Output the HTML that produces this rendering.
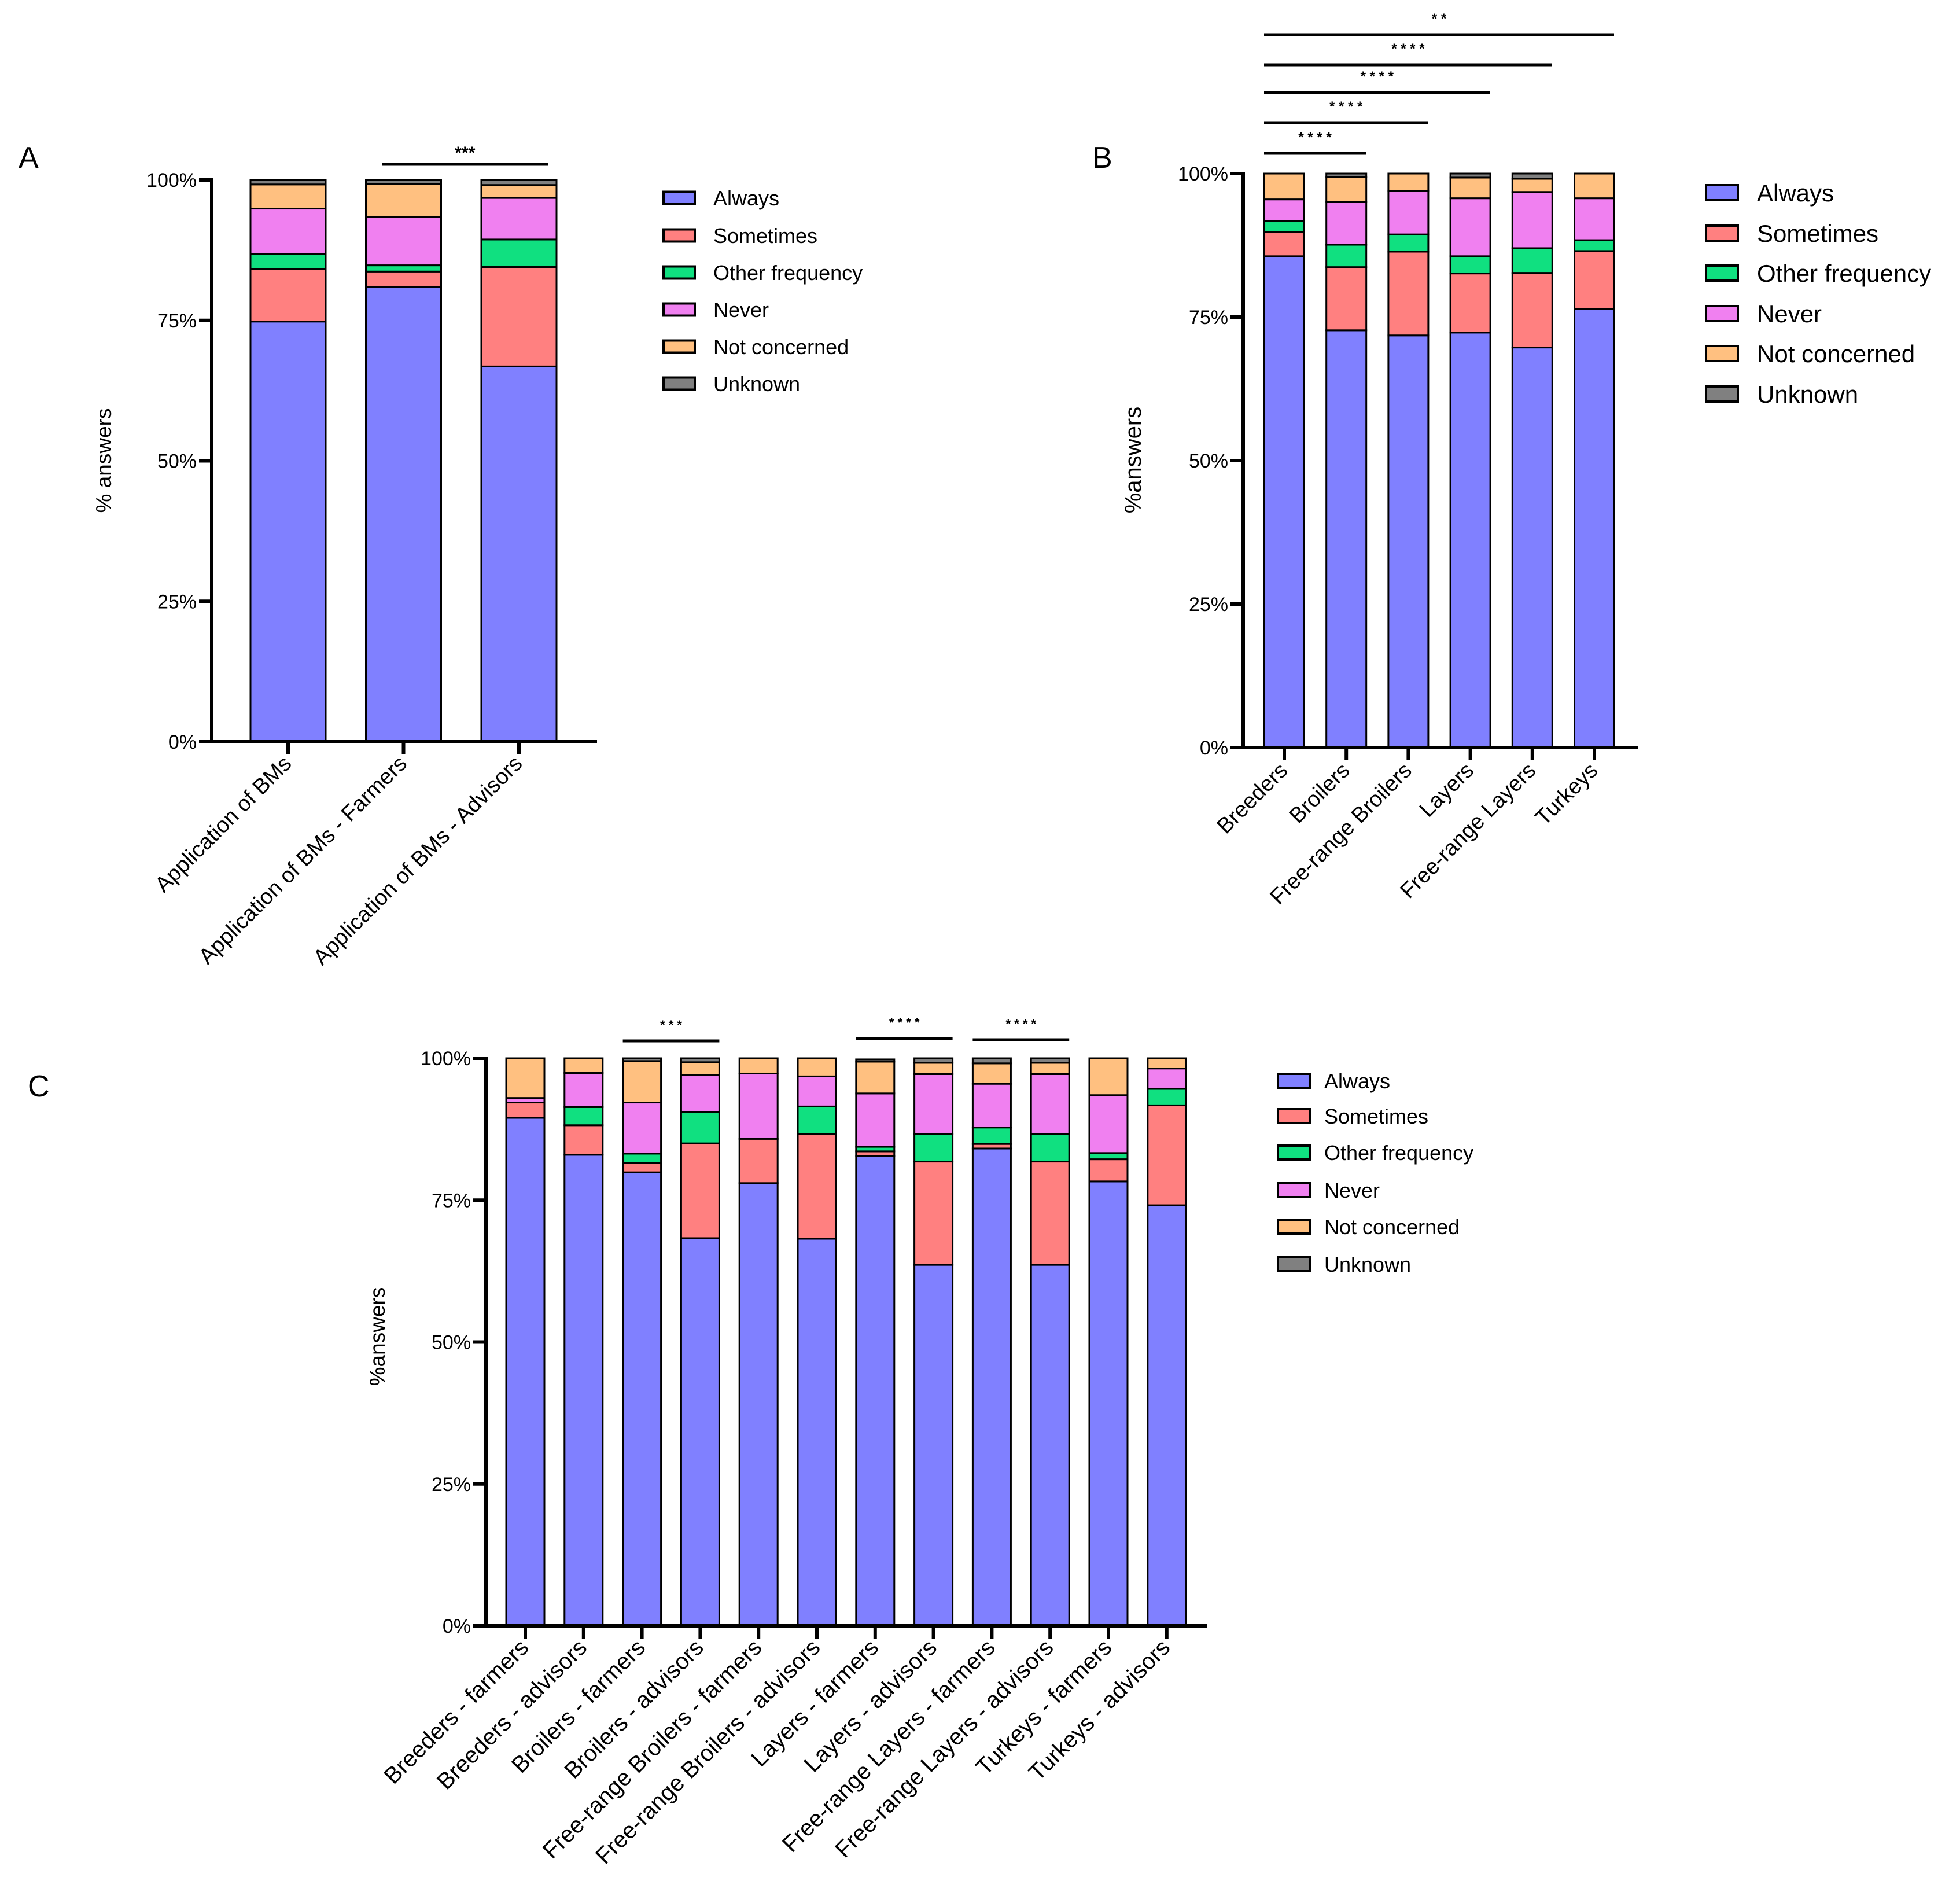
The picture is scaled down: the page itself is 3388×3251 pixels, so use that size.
<!DOCTYPE html>
<html><head><meta charset="utf-8"><style>
html,body{margin:0;padding:0;background:#fff}
svg text{font-family:"Liberation Sans",sans-serif;fill:#000}
</style></head><body>
<svg id="fig" width="3388" height="3246" viewBox="0 0 3388 3246" xmlns="http://www.w3.org/2000/svg">
<rect width="3388" height="3246" fill="#fff"/>
</svg>
<script>
const seriesNames = ["Always","Sometimes","Other frequency","Never","Not concerned","Unknown"];
const seriesColors = ["#8080ff","#ff8080","#10e080","#f080f0","#ffc080","#808080"];
const yTicks = [0,25,50,75,100];
const yTickLabels = ["0%","25%","50%","75%","100%"];

const catsA = ["Application of BMs","Application of BMs - Farmers","Application of BMs - Advisors"];
const alwaysA = [74.8,80.9,66.8];
const sometimesA = [9.3,2.8,17.7];
const otherA = [2.7,1.1,4.9];
const neverA = [8.1,8.6,7.4];
const notConcA = [4.3,5.9,2.3];
const unknownA = [0.8,0.7,0.9];

const catsB = ["Breeders","Broilers","Free-range Broilers","Layers","Free-range Layers","Turkeys"];
const alwaysB = [85.6,72.7,71.8,72.3,69.7,76.4];
const sometimesB = [4.2,11.0,14.6,10.3,13.0,10.1];
const otherB = [1.9,3.9,3.0,3.0,4.3,1.9];
const neverB = [3.8,7.5,7.6,10.1,9.8,7.3];
const notConcB = [4.5,4.3,3.0,3.6,2.3,4.3];
const unknownB = [0,0.6,0,0.7,0.9,0];

const catsC = ["Breeders - farmers","Breeders - advisors","Broilers - farmers","Broilers - advisors","Free-range Broilers - farmers","Free-range Broilers - advisors","Layers - farmers","Layers - advisors","Free-range Layers - farmers","Free-range Layers - advisors","Turkeys - farmers","Turkeys - advisors"];
const alwaysC = [89.5,83.0,79.9,68.3,78.0,68.2,82.8,63.6,84.1,63.6,78.3,74.1];
const sometimesC = [2.7,5.2,1.6,16.7,7.8,18.4,0.8,18.2,0.8,18.2,3.9,17.6];
const otherC = [0,3.2,1.7,5.5,0,4.9,0.8,4.8,2.9,4.8,1.1,2.9];
const neverC = [0.8,6.0,9.0,6.5,11.5,5.3,9.4,10.6,7.7,10.6,10.2,3.6];
const notConcC = [7.0,2.6,7.3,2.3,2.7,3.2,5.6,2.0,3.6,2.0,6.5,1.8];
const unknownC = [0,0,0.5,0.7,0,0,0.4,0.8,0.9,0.8,0,0];

const sigA = [[1,2]];
const sigAStars = ["***"];
const sigB = [[0,1],[0,2],[0,3],[0,4],[0,5]];
const sigBStars = ["* * * *","* * * *","* * * *","* * * *","* *"];
const sigC = [[2,3],[6,7],[8,9]];
const sigCStars = ["* * *","* * * *","* * * *"];

const NS="http://www.w3.org/2000/svg";
const svg=document.getElementById('fig');
function mk(tag,attrs,parent){const e=document.createElementNS(NS,tag);for(const k in attrs)e.setAttribute(k,attrs[k]);(parent||svg).appendChild(e);return e;}

function panel(p){
  const g=mk('g',{});
  
  
  const y=v=>p.y0-(v/100)*(p.y0-p.y100);
  const x=i=>p.xFirst+i*p.step;
  const series=p.series;
  p.cats.forEach((c,i)=>{
    let acc=0;
    series.forEach((s,si)=>{
      const v=s[i]; if(v<=0) return;
      const r=mk('rect',{x:x(i)-p.bw/2,y:y(acc+v),width:p.bw,height:y(acc)-y(acc+v),fill:seriesColors[si],stroke:'#000','stroke-width':p.sw},g);
      
      
      acc+=v;
    });
  });
  const ax=mk('line',{x1:p.xAxis,y1:p.y100-3,x2:p.xAxis,y2:p.y0+3,stroke:'#000','stroke-width':p.aw},g);
  
  
  const bx=mk('line',{x1:p.xAxis-p.tl,y1:p.y0,x2:p.xEnd,y2:p.y0,stroke:'#000','stroke-width':p.aw},g);
  
  
  yTicks.forEach((t,k)=>{
    mk('line',{x1:p.xAxis-p.tl,y1:y(t),x2:p.xAxis,y2:y(t),stroke:'#000','stroke-width':p.aw},g);
    const tx=mk('text',{x:p.xAxis-p.tl-4,y:y(t)+p.tf*0.36,'font-size':p.tf,'text-anchor':'end'},g);
    tx.textContent=yTickLabels[k];
    
    
  });
  p.cats.forEach((c,i)=>{
    mk('line',{x1:x(i),y1:p.y0,x2:x(i),y2:p.y0+p.tl,stroke:'#000','stroke-width':p.aw},g);
    const tx=mk('text',{x:x(i)+p.lx,y:p.y0+p.ly,'font-size':p.xf,'text-anchor':'end',transform:`rotate(-45 ${x(i)+p.lx} ${p.y0+p.ly})`},g);
    tx.textContent=c;
    
    
  });
  const yt=mk('text',{x:p.ytx,y:p.yty,'font-size':p.ytf,'text-anchor':'middle',transform:`rotate(-90 ${p.ytx} ${p.yty})`},g);
  yt.textContent=p.ytitle;
  
  
  const pl=mk('text',{x:p.plx,y:p.ply,'font-size':52},g);
  pl.textContent=p.letter;
  
  
  p.sig.forEach((s,k)=>{
    const ly=p.sigY[k];
    const x1=x(s[0])-p.sa;
    const x2=x(s[1])+p.sb;
    const l=mk('line',{x1:x1,y1:ly,x2:x2,y2:ly,stroke:'#000','stroke-width':5},g);
    
    
    const st=mk('text',{x:(x1+x2)/2,y:ly-p.starOff,'font-size':p.starF,'text-anchor':'middle','font-weight':'bold'},g);
    st.textContent=p.stars[k];
    
    
  });
  seriesNames.forEach((n,si)=>{
    const ry=p.legY[si];
    const r=mk('rect',{x:p.legX,y:ry-p.legH/2,width:p.legW,height:p.legH,fill:seriesColors[si],stroke:'#000','stroke-width':4},g);
    
    
    const t=mk('text',{x:p.legTX,y:ry+p.legF*0.36,'font-size':p.legF},g);
    t.textContent=n;
    
    
  });
}

panel({name:'panel-a',letter:'A',plx:32,ply:290,cats:catsA,series:[alwaysA,sometimesA,otherA,neverA,notConcA,unknownA],
  y0:1282,y100:311,xAxis:366,xEnd:1032,xFirst:498,step:199.5,bw:130,sw:3,aw:6,tl:22,tf:34,xf:38,lx:8,ly:40,
  ytx:192,yty:796,ytf:37,ytitle:'% answers',
  sig:sigA,stars:sigAStars,sigY:[284],sa:37,sb:50,starOff:10,starF:30,
  legX:1147,legW:54,legH:21,legTX:1233,legF:36,legY:[342,407,471,535,599,663]});
panel({name:'panel-b',letter:'B',plx:1888,ply:290,cats:catsB,series:[alwaysB,sometimesB,otherB,neverB,notConcB,unknownB],
  y0:1292,y100:300,xAxis:2149,xEnd:2832,xFirst:2220,step:107.2,bw:69,sw:3,aw:6,tl:22,tf:34,xf:38,lx:8,ly:42,
  ytx:1972,yty:795,ytf:40,ytitle:'%answers',
  sig:sigB,stars:sigBStars,sigY:[265,212,160,112,60],sa:35,sb:34,starOff:20,starF:24,
  legX:2949,legW:55,legH:26,legTX:3037,legF:42,legY:[333,403,472,542,611,681]});
panel({name:'panel-c',letter:'C',plx:48,ply:1895,cats:catsC,series:[alwaysC,sometimesC,otherC,neverC,notConcC,unknownC],
  y0:2810,y100:1829,xAxis:840,xEnd:2087,xFirst:908,step:100.8,bw:66,sw:3,aw:6,tl:22,tf:34,xf:40,lx:8,ly:40,
  ytx:665,yty:2310,ytf:37,ytitle:'%answers',
  sig:sigC,stars:sigCStars,sigY:[1799,1795,1797],sa:33,sb:33,starOff:20,starF:22,
  legX:2209,legW:56,legH:24,legTX:2289,legF:36,legY:[1868,1929,1992,2057,2120,2185]});
</script>
</body></html>
